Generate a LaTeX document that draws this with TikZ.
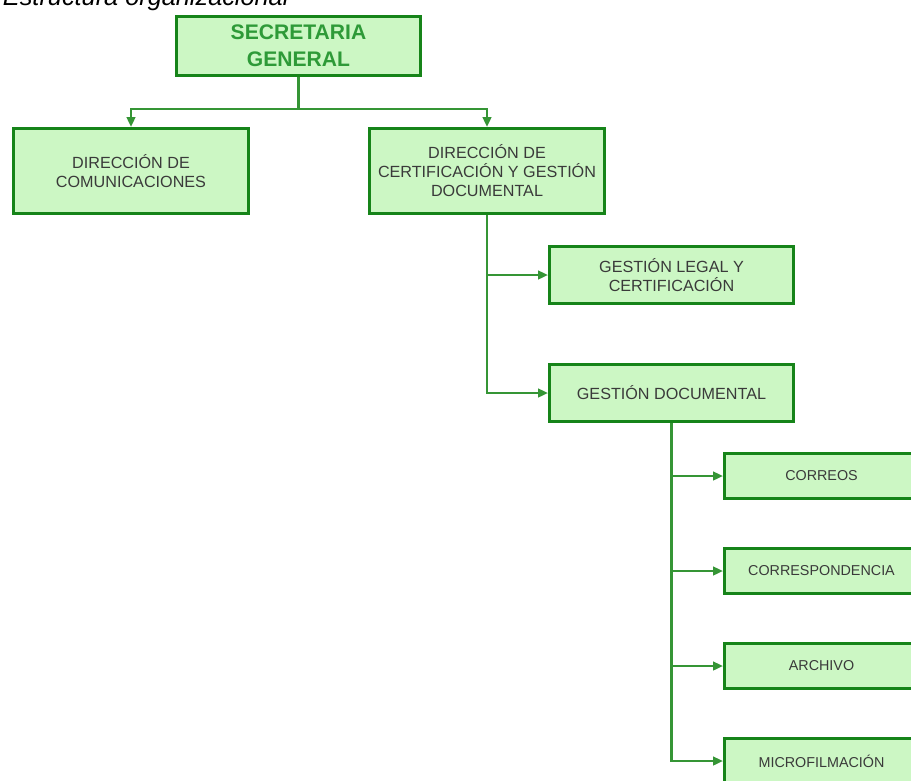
\documentclass[tikz,border=0pt]{standalone}
\usepackage{fontspec}
\setmainfont{Liberation Sans}
\usepackage{tikz}
\usetikzlibrary{positioning}
\usetikzlibrary{arrows.meta}

\definecolor{boxfill}{HTML}{CCF7C4}
\definecolor{boxline}{HTML}{168419}
\definecolor{linkline}{HTML}{359535}
\definecolor{headtext}{HTML}{2E9A38}
\definecolor{bodytext}{HTML}{3A3A3A}

\begin{document}
\begin{tikzpicture}[
    unit/.style={rectangle,draw=boxline,fill=boxfill,line width=2.1pt,align=center,text=bodytext,
        font=\fontsize{11.5}{13.5}\selectfont,minimum width=6.1cm,minimum height=1.425cm},
    bigunit/.style={unit,minimum width=5.875cm,minimum height=2.125cm},
    topunit/.style={unit,text=headtext,font=\bfseries\fontsize{15}{19}\selectfont,minimum height=1.475cm},
    smallunit/.style={unit,font=\fontsize{10.2}{12}\selectfont,minimum width=4.85cm,minimum height=1.125cm},
    arrow/.style={-{Triangle[length=7pt,width=6pt]},draw=linkline,line width=1.7pt},
    link/.style={draw=linkline,line width=1.7pt}
]
\useasboundingbox (0,0) rectangle (22.775,-19.5);

\node[anchor=base west,font=\itshape\fontsize{18}{20}\selectfont,text=black] (title) at (-0.05,-0.14) {Estructura organizacional};

\node[topunit] (sec) at (7.4625,-1.15) {SECRETARIA\\GENERAL};
\node[bigunit] (com) at (3.275,-4.275) {DIRECCIÓN DE\\COMUNICACIONES};
\node[bigunit] (cert) at (12.175,-4.275) {DIRECCIÓN DE\\CERTIFICACIÓN Y GESTIÓN\\DOCUMENTAL};
\node[unit] (legal) at (16.7875,-6.875) {GESTIÓN LEGAL Y\\CERTIFICACIÓN};
\node[unit] (gdoc) at (16.7875,-9.825) {GESTIÓN DOCUMENTAL};
\node[smallunit] (correos) at (20.5375,-11.9) {CORREOS};
\node[smallunit] (corresp) at (20.5375,-14.275) {CORRESPONDENCIA};
\node[smallunit] (archivo) at (20.5375,-16.65) {ARCHIVO};
\node[smallunit] (micro) at (20.5375,-19.025) {MICROFILMACIÓN};

\coordinate (split) at (7.4625,-2.725);
\draw[link] (sec) -- (split);
\draw[arrow] (split) -| (com);
\draw[arrow] (split) -| (cert);
\draw[arrow] (cert.south) |- (legal.west);
\draw[arrow] (cert.south) |- (gdoc.west);
\draw[arrow] (gdoc.south) |- (correos.west);
\draw[arrow] (gdoc.south) |- (corresp.west);
\draw[arrow] (gdoc.south) |- (archivo.west);
\draw[arrow] (gdoc.south) |- (micro.west);
\end{tikzpicture}
\end{document}
